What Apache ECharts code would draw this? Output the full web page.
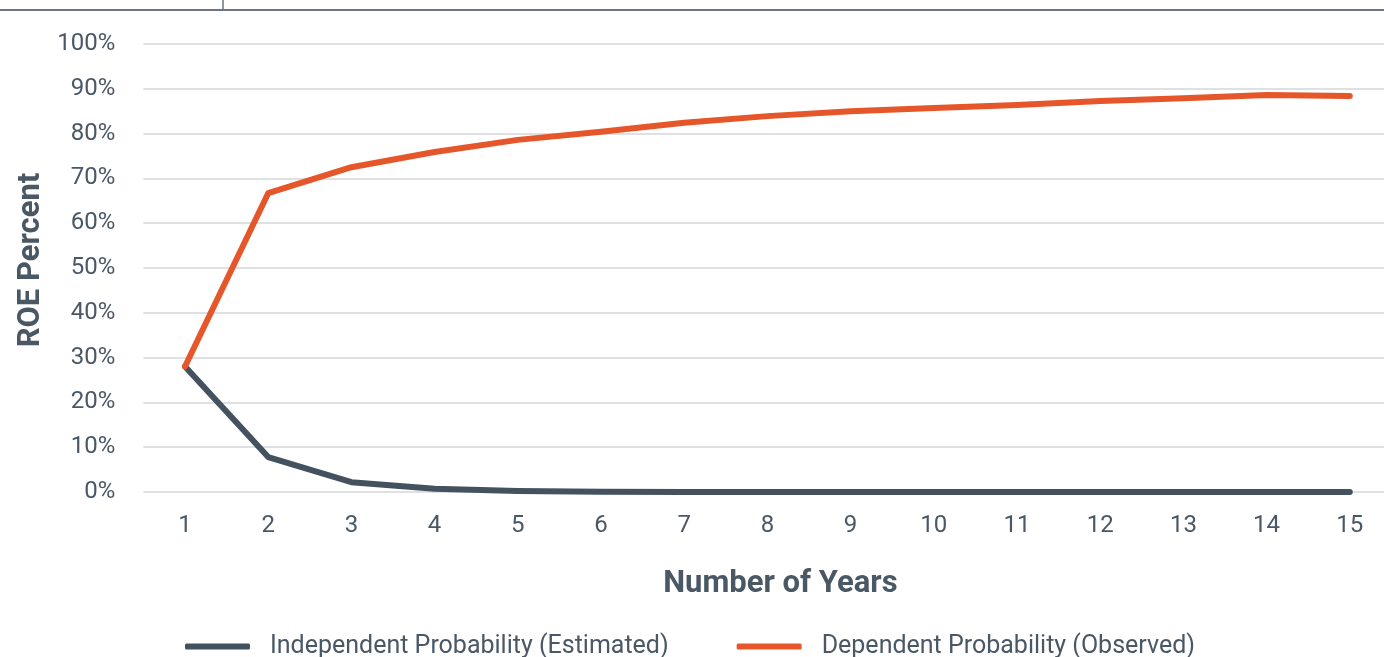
<!DOCTYPE html>
<html><head><meta charset="utf-8">
<script src="https://cdn.jsdelivr.net/npm/echarts@6/dist/echarts.min.js"></script>
<style>html,body{margin:0;padding:0;background:#fff}#c{width:1384px;height:657px}</style>
</head><body><div id="c"></div>
<script>
const years = ['1','2','3','4','5','6','7','8','9','10','11','12','13','14','15'];
const independent = [28, 7.8, 2.2, 0.7, 0.2, 0.05, 0, 0, 0, 0, 0, 0, 0, 0, 0];
const dependent = [28, 66.7, 72.5, 75.9, 78.6, 80.4, 82.4, 83.9, 85.0, 85.7, 86.4, 87.3, 87.9, 88.6, 88.4];
const seriesNames = ['Independent Probability (Estimated)', 'Dependent Probability (Observed)'];
const FONT = 'Roboto, sans-serif';
const TXT = '#4a5866';
const chart = echarts.init(document.getElementById('c'), null, {renderer:'canvas'});
chart.setOption({
  animation:false,
  textStyle:{fontFamily:FONT},
  grid:{left:143.4, top:44, width:1248, height:448, containLabel:false, outerBoundsMode:'none'},
  legend:{
    top:629, left:180, itemWidth:65, itemHeight:6, itemGap:68, icon:'roundRect',
    textStyle:{fontFamily:FONT, fontSize:25, color:TXT, padding:[0,0,0,15]},
    data:seriesNames
  },
  xAxis:{
    type:'category', data:years, boundaryGap:true,
    name:'Number of Years', nameLocation:'middle', nameGap:77,
    nameTextStyle:{fontFamily:FONT, fontSize:31, fontWeight:'bold', color:TXT, padding:[0,0,0,26]},
    axisLine:{show:false}, axisTick:{show:false},
    axisLabel:{fontFamily:FONT, fontSize:24, color:TXT, margin:22}
  },
  yAxis:{
    type:'value', min:0, max:100, interval:10,
    name:'ROE Percent', nameLocation:'middle', nameGap:97, nameRotate:90,
    nameTextStyle:{fontFamily:FONT, fontSize:31, fontWeight:'bold', color:TXT, padding:[0,0,0,16]},
    axisLine:{show:false}, axisTick:{show:false},
    axisLabel:{fontFamily:FONT, fontSize:24, color:TXT, margin:28, formatter:'{value}%'},
    splitLine:{lineStyle:{color:'#dde1e4', width:2}}
  },
  series:[
    {name:seriesNames[0], type:'line', data:independent, symbol:'none', smooth:false,
     lineStyle:{color:'#44525f', width:6, cap:'round', join:'round'}, itemStyle:{color:'#44525f'}},
    {name:seriesNames[1], type:'line', data:dependent, symbol:'none', smooth:false,
     lineStyle:{color:'#e5572a', width:6, cap:'round', join:'round'}, itemStyle:{color:'#e5572a'}}
  ],
  graphic:[
    {type:'line', shape:{x1:0,y1:10,x2:1384,y2:10}, style:{stroke:'#6b7680', lineWidth:2}},
    {type:'line', shape:{x1:223,y1:0,x2:223,y2:10}, style:{stroke:'#6b7680', lineWidth:1.5}}
  ]
});
</script></body></html>
